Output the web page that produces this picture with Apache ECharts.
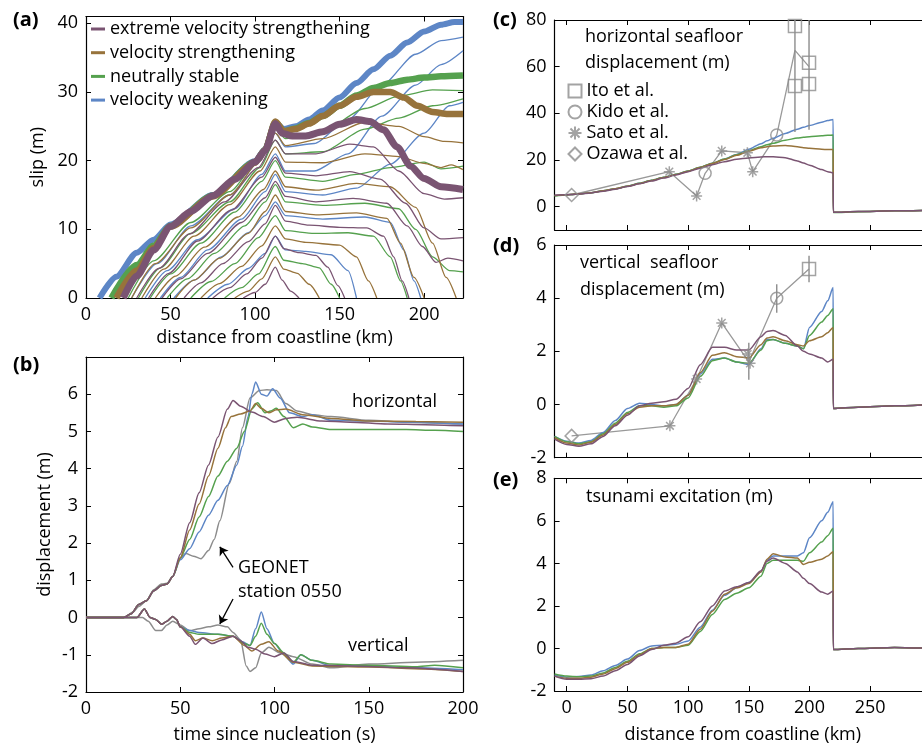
<!DOCTYPE html>
<html>
<head>
<meta charset="utf-8">
<script src="https://cdn.jsdelivr.net/npm/echarts@6/dist/echarts.min.js"></script>
<style>
  html, body { margin: 0; padding: 0; background: #fff; }
  #chart { width: 922px; height: 746px; }
</style>
</head>
<body>
<div id="chart"></div>
<script>
const FONT = '"Open Sans", "Noto Sans", sans-serif';
const C_EVS = '#7a5472', C_VS = '#97733b', C_NS = '#55a14e', C_VW = '#5d86c6';
const GRAY = '#8c8c8c';

const models = ['extreme velocity strengthening', 'velocity strengthening', 'neutrally stable', 'velocity weakening'];
const obsNames = ['Ito et al.', 'Kido et al.', 'Sato et al.', 'Ozawa et al.'];

// ---- (a) slip profiles [km, m] ----
const slipFinalEVS = [[22,0],[30,3.2],[40,7],[50,10.4],[62,12.6],[75,14.9],[88,17.3],[100,19.8],[106,21.5],[112,25.4],[116,24],[122,23.6],[130,23.6],[140,24.2],[150,25.3],[160,26],[168,25.7],[176,24.5],[184,22],[192,19.2],[200,17.4],[210,16.2],[223,15.8]];
const slipFinalVS = [[18,0],[30,4],[40,7.3],[50,10.4],[75,14.8],[100,19.7],[106,21.6],[112,25.7],[117,24.3],[124,24.6],[132,25.4],[140,26.5],[150,28],[160,29.3],[170,30],[180,30],[188,29.2],[196,28],[205,27.1],[214,26.8],[223,26.8]];
const slipFinalNS = [[15,0],[30,4.8],[40,7.6],[50,10.5],[75,14.9],[100,19.8],[106,21.6],[112,25.6],[117,24.3],[124,24.7],[132,25.5],[140,26.5],[150,28],[160,29.5],[170,30.6],[180,31.3],[190,31.8],[200,32.1],[210,32.3],[223,32.4]];
const slipFinalVW = [[8,0],[18,3.1],[30,6.6],[40,8.5],[50,10.7],[75,15],[100,19.9],[106,21.7],[112,25.6],[117,24.6],[124,25],[132,26],[140,27.3],[150,29.2],[160,31.3],[170,33.3],[180,35.3],[190,37.2],[200,38.8],[210,39.8],[218,40.2],[223,40.2]];

const slipStepsEVS = [
  [[93,0],[100,0.8],[106,2],[112,4.5],[116,2.6],[121,1],[126,0]],
  [[75,0],[85,1.5],[95,3.5],[104,5.8],[112,9],[117,7.2],[126,6.6],[136,6.2],[143,4.5],[149,1.8],[153,0]],
  [[58,0],[68,2.2],[81,5],[96,8.2],[106,10.8],[112,13.5],[118,11.2],[132,10.6],[150,10.3],[166,10.2],[176,9],[182,6],[187,2.5],[191,0]],
  [[45,0],[56,2.8],[72,6.5],[92,11],[106,14.6],[112,17],[118,14.8],[136,14],[158,14.5],[178,13.8],[190,10.5],[199,7.5],[207,5.2],[214,5.8],[223,5.4]],
  [[37,0],[49,3.6],[66,8.3],[86,12.8],[104,17.6],[112,20.5],[118,18.2],[136,17.8],[156,18.4],[174,17.3],[189,13.8],[200,10.2],[210,8.6],[223,8.8]],
  [[30,0],[43,4.3],[61,9.3],[82,14],[102,19],[112,23],[118,21],[136,21],[156,22.4],[170,22],[185,18.5],[200,15.2],[212,14.4],[223,14.6]]
];
const slipStepsVS = [
  [[88,0],[96,1],[104,2.8],[112,6],[117,4.2],[125,3.6],[132,2],[138,0]],
  [[68,0],[79,2.1],[92,4.6],[104,7.6],[112,10.5],[118,8.6],[130,8.1],[150,7.7],[160,6],[167,2.5],[172,0]],
  [[53,0],[64,2.6],[79,5.8],[96,9.4],[106,12.6],[112,15],[118,12.6],[136,12.1],[160,12.4],[178,11.6],[186,8],[194,3],[200,0]],
  [[41,0],[53,3.2],[70,7.4],[90,11.8],[105,15.8],[112,18.5],[118,16.2],[136,15.7],[160,16.7],[180,16.2],[195,13.2],[205,8],[213,3],[219,0]],
  [[33,0],[46,4.2],[64,9],[85,13.6],[103,18.5],[112,22],[118,19.8],[140,19.7],[165,21],[185,20.6],[200,19.6],[210,19],[216,19.4],[223,18.7]],
  [[27,0],[41,5],[62,10.2],[85,15],[103,20],[112,24],[118,22.2],[140,23.2],[165,25.6],[185,25],[200,23.5],[212,22.8],[223,22.6]]
];
const slipStepsNS = [
  [[82,0],[92,1.5],[102,3.5],[112,7.5],[117,5.5],[128,5],[138,4.4],[145,2],[150,0]],
  [[62,0],[74,2.4],[88,5],[102,8.8],[112,12],[118,9.8],[135,9.4],[155,9.5],[170,9],[180,6],[186,2.5],[190,0]],
  [[48,0],[60,2.8],[76,6.5],[94,10.5],[106,14],[112,16.5],[118,14],[140,13.5],[165,13.8],[185,13],[195,10],[205,6],[215,4],[223,3.8]],
  [[38,0],[50,3.5],[68,8],[88,12.5],[104,17],[112,20],[118,17.6],[140,17],[160,18],[180,19],[200,19.8],[210,18.8],[223,19.2]],
  [[31,0],[44,4.4],[62,9.4],[85,14],[103,19],[112,23],[118,21],[140,21.3],[165,24.6],[185,26.2],[205,28],[223,29]],
  [[25,0],[40,5.4],[62,11],[85,15.5],[103,20.4],[112,24.6],[118,23.2],[140,24.3],[165,27.6],[185,29.4],[205,30.3],[223,30.2]]
];
const slipStepsVW = [
  [[72,0],[84,2],[96,4.3],[106,6.5],[112,9],[118,7],[130,6.8],[145,6.3],[155,4],[160,0]],
  [[52,0],[64,2.6],[80,6],[96,9.5],[106,12],[112,14],[118,12],[140,11.5],[165,11.8],[180,11],[188,7],[194,2.5],[198,0]],
  [[44,0],[56,3],[72,7],[92,11.5],[106,15.5],[112,18],[118,15.5],[140,15],[160,16],[180,19.5],[200,24],[215,28],[223,28.5]],
  [[35,0],[48,4],[66,8.5],[88,13],[104,18],[112,21],[118,18.5],[135,18.5],[155,21],[175,26.5],[195,31],[210,34],[223,36]],
  [[27,0],[42,5],[62,10.5],[85,15],[103,20],[112,24],[118,22],[135,22.5],[155,26],[175,31],[195,35.5],[210,37.5],[223,38]]
];

// ---- (b) station displacement [s, m] ----
const horizEVS = [[0,0],[20,0],[24,0.1],[28,0.35],[32,0.45],[36,0.72],[40,0.86],[43,0.9],[46,1.1],[50,1.7],[55,2.55],[60,3.35],[65,4.1],[70,4.85],[75,5.6],[78,5.83],[82,5.68],[88,5.52],[94,5.4],[100,5.25],[106,5.35],[112,5.38],[125,5.28],[140,5.25],[160,5.2],[180,5.18],[200,5.15]];
const horizVS = [[0,0],[20,0],[24,0.1],[28,0.35],[32,0.45],[36,0.72],[40,0.86],[43,0.9],[46,1.1],[50,1.6],[55,2.35],[60,3.05],[65,3.8],[70,4.55],[74,5.1],[77,5.4],[82,5.47],[87,5.55],[90,5.75],[93,5.62],[97,5.5],[101,5.58],[106,5.6],[115,5.45],[130,5.35],[150,5.28],[175,5.27],[200,5.25]];
const horizNS = [[0,0],[20,0],[24,0.1],[28,0.35],[32,0.45],[36,0.72],[40,0.86],[43,0.9],[46,1.1],[50,1.6],[55,2.1],[60,2.7],[65,3.25],[70,3.8],[75,4.2],[80,4.55],[84,5.0],[88,5.6],[91,5.77],[95,5.5],[98,5.55],[101,5.62],[105,5.4],[110,5.1],[115,5.2],[120,5.12],[130,5.05],[150,5.05],[170,5.05],[185,5.03],[200,5.0]];
const horizVW = [[0,0],[20,0],[24,0.1],[28,0.35],[32,0.45],[36,0.72],[40,0.86],[43,0.9],[46,1.1],[50,1.55],[55,1.85],[60,2.3],[65,2.75],[70,3.15],[75,3.55],[80,4.1],[83,4.6],[86,5.4],[88,6.0],[90,6.33],[93,6.0],[96,5.95],[99,6.15],[103,5.9],[108,5.5],[115,5.4],[120,5.45],[130,5.3],[150,5.28],[170,5.25],[200,5.2]];
const horizGeonet = [[0,0],[20,0],[25,0.15],[28,0.3],[32,0.45],[36,0.75],[40,0.9],[43,0.92],[46,1.1],[50,1.6],[53,1.72],[57,1.65],[61,1.58],[65,1.8],[68,2.1],[71,2.6],[76,3.6],[80,4.2],[83,5.1],[87,5.9],[92,6.1],[96,6.12],[101,6.1],[106,5.75],[112,5.55],[120,5.45],[130,5.4],[150,5.3],[170,5.25],[200,5.2]];

const vertEVS = [[0,0],[27,0],[31,0.23],[34,0.0],[37,-0.05],[40,-0.18],[43,-0.1],[46,0.03],[48,-0.05],[50,-0.25],[55,-0.5],[58,-0.72],[62,-0.55],[67,-0.7],[72,-0.6],[78,-0.5],[82,-0.62],[86,-0.8],[90,-0.85],[95,-0.98],[100,-1.05],[105,-0.95],[110,-1.18],[120,-1.28],[140,-1.3],[170,-1.35],[200,-1.45]];
const vertVS = [[0,0],[27,0],[31,0.23],[34,0.0],[37,-0.05],[40,-0.18],[43,-0.1],[46,0.03],[48,-0.05],[50,-0.25],[55,-0.45],[58,-0.62],[62,-0.55],[67,-0.62],[72,-0.55],[78,-0.5],[84,-0.75],[88,-0.9],[93,-0.72],[97,-0.65],[102,-0.9],[110,-1.2],[120,-1.3],[150,-1.33],[180,-1.38],[200,-1.45]];
const vertNS = [[0,0],[27,0],[31,0.23],[34,0.0],[37,-0.05],[40,-0.18],[43,-0.1],[46,0.03],[48,-0.05],[50,-0.25],[55,-0.4],[60,-0.45],[70,-0.45],[78,-0.5],[84,-0.7],[87,-0.75],[90,-0.5],[93,-0.15],[96,-0.45],[100,-0.7],[105,-0.95],[110,-1.2],[114,-1.0],[120,-1.15],[130,-1.25],[150,-1.28],[175,-1.32],[185,-1.28],[200,-1.35]];
const vertVW = [[0,0],[27,0],[31,0.23],[34,0.0],[37,-0.05],[40,-0.18],[43,-0.1],[46,0.03],[48,-0.05],[50,-0.25],[55,-0.35],[60,-0.4],[70,-0.45],[78,-0.5],[83,-0.65],[87,-0.75],[90,-0.3],[93,0.15],[96,-0.3],[100,-0.7],[105,-1.0],[110,-1.25],[114,-1.0],[120,-1.15],[130,-1.3],[150,-1.3],[175,-1.35],[200,-1.4]];
const vertGeonet = [[0,0],[30,0],[33,-0.1],[37,-0.35],[40,-0.35],[43,-0.2],[46,-0.1],[50,-0.2],[55,-0.35],[60,-0.3],[65,-0.25],[70,-0.2],[75,-0.25],[78,-0.4],[82,-0.6],[85,-1.3],[87,-1.45],[90,-1.35],[93,-0.95],[97,-0.8],[103,-0.95],[110,-1.05],[120,-1.25],[130,-1.35],[150,-1.25],[175,-1.2],[200,-1.15]];

// ---- (c)-(e) seafloor profiles ----
const seafloorX = [-10, 0, 10, 20, 30, 40, 50, 60, 70, 80, 90, 100, 110, 120, 130, 140, 150, 160, 165, 170, 180, 190, 195, 200, 210, 215, 219.5, 219.6, 240, 270, 300];
const hzVW  = [4.8, 5.1, 5.5, 6.0, 6.8, 7.7, 8.8, 10.0, 11.3, 12.6, 13.9, 15.3, 16.9, 18.6, 20.4, 22.4, 24.6, 27.0, 28.2, 29.3, 31.4, 33.2, 34.0, 34.8, 36.2, 36.9, 37.4, -2.4, -2.1, -1.8, -1.6];
const hzNS  = [4.6, 5.0, 5.4, 6.0, 6.8, 7.7, 8.8, 10.0, 11.3, 12.6, 13.9, 15.3, 16.9, 18.6, 20.4, 22.3, 24.0, 25.7, 26.5, 27.2, 28.5, 29.4, 29.7, 30.0, 30.4, 30.6, 30.7, -2.5, -2.2, -1.8, -1.6];
const hzVS  = [4.8, 5.1, 5.5, 6.0, 6.8, 7.7, 8.7, 9.9, 11.2, 12.5, 13.8, 15.2, 16.8, 18.5, 20.2, 22.0, 23.8, 25.2, 25.7, 26.0, 26.2, 25.7, 25.3, 25.0, 24.6, 24.5, 24.5, -2.4, -2.1, -1.8, -1.6];
const hzEVS = [4.9, 5.1, 5.4, 5.9, 6.6, 7.5, 8.6, 9.8, 11.0, 12.3, 13.6, 15.0, 16.5, 18.0, 19.3, 20.3, 20.9, 21.3, 21.4, 21.4, 21.0, 19.6, 18.7, 17.8, 15.9, 15.0, 14.5, -2.4, -2.1, -1.8, -1.6];

const vtVW  = [-1.2, -1.38, -1.45, -1.35, -1.05, -0.6, -0.15, 0.05, 0.0, -0.05, 0.0, 0.35, 1.15, 1.7, 1.75, 1.6, 1.5, 2.1, 2.45, 2.45, 2.3, 2.2, 2.1, 2.9, 3.5, 3.9, 4.4, -0.15, -0.1, -0.05, 0.0];
const vtNS  = [-1.2, -1.4, -1.48, -1.4, -1.1, -0.7, -0.3, -0.05, -0.05, -0.1, -0.05, 0.25, 1.05, 1.65, 1.75, 1.6, 1.55, 2.05, 2.4, 2.45, 2.3, 2.2, 2.1, 2.6, 3.1, 3.35, 3.6, -0.15, -0.1, -0.05, 0.0];
const vtVS  = [-1.25, -1.45, -1.52, -1.42, -1.15, -0.75, -0.35, -0.1, -0.05, -0.05, 0.0, 0.35, 1.2, 1.85, 1.95, 1.8, 1.75, 2.25, 2.5, 2.55, 2.4, 2.25, 2.2, 2.4, 2.55, 2.7, 2.9, -0.15, -0.1, -0.05, 0.0];
const vtEVS = [-1.3, -1.5, -1.57, -1.48, -1.2, -0.8, -0.4, -0.05, 0.05, 0.1, 0.2, 0.6, 1.5, 2.15, 2.15, 2.05, 2.05, 2.55, 2.75, 2.78, 2.6, 2.2, 2.0, 1.9, 1.75, 1.6, 1.7, -0.15, -0.1, -0.05, 0.0];

const tsVW  = [-1.25, -1.35, -1.32, -1.25, -1.05, -0.8, -0.5, -0.1, 0.12, 0.15, 0.2, 0.35, 1.0, 1.8, 2.5, 2.85, 3.1, 3.6, 4.15, 4.35, 4.35, 4.35, 4.5, 5.2, 6.0, 6.4, 6.9, -0.05, 0.0, 0.05, 0.0];
const tsNS  = [-1.2, -1.3, -1.33, -1.3, -1.15, -0.9, -0.6, -0.25, 0.0, 0.05, 0.05, 0.15, 0.8, 1.6, 2.3, 2.6, 2.85, 3.4, 4.0, 4.15, 4.15, 4.15, 4.1, 4.5, 5.0, 5.3, 5.65, -0.05, 0.0, 0.05, 0.0];
const tsVS  = [-1.3, -1.4, -1.4, -1.35, -1.2, -0.95, -0.65, -0.3, 0.0, 0.05, 0.05, 0.2, 0.9, 1.75, 2.55, 2.85, 3.05, 3.6, 4.2, 4.45, 4.3, 4.25, 3.95, 4.05, 4.2, 4.35, 4.55, -0.05, 0.0, 0.05, 0.0];
const tsEVS = [-1.3, -1.45, -1.45, -1.42, -1.3, -1.05, -0.75, -0.35, -0.05, 0.15, 0.25, 0.55, 1.25, 2.0, 2.7, 2.9, 3.1, 3.65, 4.1, 4.25, 4.0, 3.6, 3.3, 3.05, 2.65, 2.55, 2.7, -0.05, 0.0, 0.05, 0.0];

// observations [km, m]; error bars [km, low, high]
const itoHz = [[188, 77.4], [188, 51.7], [199.6, 61.7], [199.6, 52.6]];
const kidoHz = [[114, 14.3], [173, 30.7]];
const satoHz = [[84.5, 15], [107, 4.6], [127.7, 23.9], [148.8, 23.1], [153.2, 15]];
const ozawaHz = [[4, 5]];
const obsPathHz = [[4, 5], [84.5, 15], [107, 4.6], [114, 14.3], [127.7, 23.9], [148.8, 23.1], [153.2, 15], [173, 30.7], [188, 67], [199.6, 60]];
const errHz = [[188, 32, 80], [199.6, 33, 80]];

const itoVt = [[199.6, 5.1]];
const kidoVt = [[173, 4.0]];
const satoVt = [[85, -0.8], [107, 0.96], [127.7, 3.07], [149, 1.9], [151, 1.55]];
const ozawaVt = [[4, -1.18]];
const obsPathVt = [[4, -1.18], [85, -0.8], [107, 0.96], [127.7, 3.07], [150, 1.6], [173, 4.0], [199.6, 5.1]];
const errVt = [[150, 0.93, 2.32], [173, 3.45, 4.52], [199.6, 4.6, 5.6]];

const zip = (xs, ys) => xs.map((x, i) => [x, ys[i]]);

function makeAxis(grid, pos, min, max, ticks, labels, name, gap) {
  return {
    type: 'value', gridIndex: grid, position: pos, min: min, max: max,
    axisLine: { show: true, onZero: false, lineStyle: { color: '#000', width: 1.2 } },
    axisTick: { show: true, inside: true, length: 5, customValues: ticks, lineStyle: { color: '#000', width: 1 } },
    axisLabel: { show: labels, customValues: ticks, color: '#000', fontFamily: FONT, fontSize: 18, margin: 8 },
    splitLine: { show: false },
    name: name || '', nameLocation: 'middle', nameGap: gap || 0,
    nameTextStyle: { color: '#000', fontFamily: FONT, fontSize: 18 }
  };
}

function line(name, color, data, xi, yi, width, z) {
  return {
    type: 'line', name: name, data: data, xAxisIndex: xi, yAxisIndex: yi,
    showSymbol: false, symbol: 'none', smooth: 0.25, smoothMonotone: 'x',
    lineStyle: { color: color, width: width }, itemStyle: { color: color },
    silent: true, z: z || 2
  };
}

const hollow = { color: 'rgba(0,0,0,0)', borderColor: GRAY, borderWidth: 1.5 };
const STAR = 'path://M5,0L5,10M0,5L10,5M1.5,1.5L8.5,8.5M1.5,8.5L8.5,1.5';

function obsSeries(xi, yi, ito, kido, sato, ozawa, path, err) {
  return [
    { type: 'line', name: 'obs', data: path, xAxisIndex: xi, yAxisIndex: yi, showSymbol: false, symbol: 'none',
      lineStyle: { color: '#999', width: 1.3 }, silent: true, z: 1 },
    { type: 'custom', name: 'err', data: err, xAxisIndex: xi, yAxisIndex: yi, silent: true, z: 5,
      encode: { x: 0, y: [1, 2] },
      renderItem: function (params, api) {
        const a = api.coord([api.value(0), api.value(1)]);
        const b = api.coord([api.value(0), api.value(2)]);
        return { type: 'line', shape: { x1: a[0], y1: a[1], x2: b[0], y2: b[1] }, style: { stroke: GRAY, lineWidth: 1.4 } };
      } },
    { type: 'scatter', name: 'Ito et al.', data: ito, xAxisIndex: xi, yAxisIndex: yi, symbol: 'rect', symbolSize: 13, itemStyle: hollow, z: 6 },
    { type: 'scatter', name: 'Kido et al.', data: kido, xAxisIndex: xi, yAxisIndex: yi, symbol: 'circle', symbolSize: 12, itemStyle: hollow, z: 6 },
    { type: 'scatter', name: 'Sato et al.', data: sato, xAxisIndex: xi, yAxisIndex: yi, symbol: STAR, symbolSize: 11, itemStyle: hollow, z: 6 },
    { type: 'scatter', name: 'Ozawa et al.', data: ozawa, xAxisIndex: xi, yAxisIndex: yi, symbol: 'diamond', symbolSize: 13, itemStyle: hollow, z: 6 }
  ];
}

const series = [];

// (a)
const steps = [slipStepsEVS, slipStepsVS, slipStepsNS, slipStepsVW];
const cols = [C_EVS, C_VS, C_NS, C_VW];
for (let k = 0; k < 6; k++) {
  for (let m = 0; m < 4; m++) {
    if (steps[m][k]) series.push(line(models[m], cols[m], steps[m][k], 0, 0, 1.3));
  }
}
series.push(line(models[3], C_VW, slipFinalVW, 0, 0, 6, 3));
series.push(line(models[2], C_NS, slipFinalNS, 0, 0, 6.5, 3));
series.push(line(models[1], C_VS, slipFinalVS, 0, 0, 6.5, 3));
series.push(line(models[0], C_EVS, slipFinalEVS, 0, 0, 7, 3));

// (b)
const geoH = line('GEONET', GRAY, horizGeonet, 2, 2, 1.5);
geoH.markLine = {
  silent: true, symbol: ['none', 'arrow'], symbolSize: 8, animation: false,
  lineStyle: { color: '#000', width: 1.3, type: 'solid' }, label: { show: false },
  data: [[{ coord: [78, 1.35] }, { coord: [71, 1.9] }], [{ coord: [78, 0.5] }, { coord: [71, -0.17] }]]
};
series.push(geoH);
series.push(line('GEONET', GRAY, vertGeonet, 2, 2, 1.5));
[[horizVW, vertVW, 3], [horizNS, vertNS, 2], [horizVS, vertVS, 1], [horizEVS, vertEVS, 0]].forEach(function (d) {
  series.push(line(models[d[2]], cols[d[2]], d[0], 2, 2, 1.5));
  series.push(line(models[d[2]], cols[d[2]], d[1], 2, 2, 1.5));
});

// (c), (d), (e)
obsSeries(4, 4, itoHz, kidoHz, satoHz, ozawaHz, obsPathHz, errHz).forEach(s => series.push(s));
obsSeries(6, 5, itoVt, kidoVt, satoVt, ozawaVt, obsPathVt, errVt).forEach(s => series.push(s));
[[hzVW, vtVW, tsVW, 3], [hzNS, vtNS, tsNS, 2], [hzVS, vtVS, tsVS, 1], [hzEVS, vtEVS, tsEVS, 0]].forEach(function (d) {
  series.push(line(models[d[3]], cols[d[3]], zip(seafloorX, d[0]), 4, 4, 1.5, 3));
  series.push(line(models[d[3]], cols[d[3]], zip(seafloorX, d[1]), 6, 5, 1.5, 3));
  series.push(line(models[d[3]], cols[d[3]], zip(seafloorX, d[2]), 8, 6, 1.5, 3));
});

const distTicks = [0, 50, 100, 150, 200, 250];
const textStyle = { fill: '#000', fontFamily: FONT, fontSize: 18, verticalAlign: 'middle' };
function txt(x, y, s, extra) {
  return { type: 'text', x: x, y: y, silent: true, style: Object.assign({ text: s }, textStyle, extra || {}) };
}

const option = {
  animation: false,
  backgroundColor: '#fff',
  grid: [
    { left: 86, top: 16.5, width: 377, height: 281.5, outerBoundsMode: 'none' },
    { left: 86, top: 357, width: 377, height: 335, outerBoundsMode: 'none' },
    { left: 554.6, top: 20, width: 376.3, height: 210, outerBoundsMode: 'none' },
    { left: 554.6, top: 245, width: 376.3, height: 212.7, outerBoundsMode: 'none' },
    { left: 554.6, top: 478.3, width: 376.3, height: 212.7, outerBoundsMode: 'none' }
  ],
  xAxis: [
    makeAxis(0, 'bottom', 0, 223, [0, 50, 100, 150, 200], true, 'distance from coastline (km)', 31),
    makeAxis(0, 'top', 0, 223, [0, 50, 100, 150, 200], false),
    makeAxis(1, 'bottom', 0, 200, [0, 50, 100, 150, 200], true, 'time since nucleation (s)', 34),
    makeAxis(1, 'top', 0, 200, [0, 50, 100, 150, 200], false),
    makeAxis(2, 'bottom', -10, 300, distTicks, false),
    makeAxis(2, 'top', -10, 300, distTicks, false),
    makeAxis(3, 'bottom', -10, 300, distTicks, false),
    makeAxis(3, 'top', -10, 300, distTicks, false),
    makeAxis(4, 'bottom', -10, 300, distTicks, true, 'distance from coastline (km)', 35),
    makeAxis(4, 'top', -10, 300, distTicks, false)
  ],
  yAxis: [
    makeAxis(0, 'left', 0, 41, [0, 10, 20, 30, 40], true, 'slip (m)', 39),
    makeAxis(0, 'right', 0, 41, [0, 10, 20, 30, 40], false),
    makeAxis(1, 'left', -2, 7, [-2, -1, 0, 1, 2, 3, 4, 5, 6], true, 'displacement (m)', 32),
    makeAxis(1, 'right', -2, 7, [-2, -1, 0, 1, 2, 3, 4, 5, 6], false),
    makeAxis(2, 'left', -10, 80, [0, 20, 40, 60, 80], true),
    makeAxis(3, 'left', -2, 6, [-2, 0, 2, 4, 6], true),
    makeAxis(4, 'left', -2, 8, [-2, 0, 2, 4, 6, 8], true)
  ],
  legend: [
    { data: models, left: 91, top: 20, padding: 0, orient: 'vertical', icon: 'rect', itemWidth: 14, itemHeight: 3, itemGap: 5.7,
      selectedMode: false, textStyle: { color: '#000', fontFamily: FONT, fontSize: 18, lineHeight: 18 } },
    { data: obsNames, left: 567.5, top: 82, padding: 0, orient: 'vertical', itemWidth: 13, itemHeight: 13, itemGap: 3,
      selectedMode: false, textStyle: { color: '#000', fontFamily: FONT, fontSize: 18, lineHeight: 18 } }
  ],
  graphic: [
    txt(13, 20, '(a)', { fontWeight: 'bold', fontSize: 20 }),
    txt(13, 365, '(b)', { fontWeight: 'bold', fontSize: 20 }),
    txt(493, 20, '(c)', { fontWeight: 'bold', fontSize: 20 }),
    txt(493, 246, '(d)', { fontWeight: 'bold', fontSize: 20 }),
    txt(493, 480, '(e)', { fontWeight: 'bold', fontSize: 20 }),
    txt(352, 402, 'horizontal'),
    txt(348, 646, 'vertical'),
    txt(238, 568, 'GEONET'),
    txt(238, 592, 'station 0550'),
    txt(585, 37, 'horizontal seafloor'),
    txt(585, 63, 'displacement (m)'),
    txt(580, 263, 'vertical  seafloor'),
    txt(580, 290, 'displacement (m)'),
    txt(586, 497, 'tsunami excitation (m)')
  ],
  series: series
};

const chart = echarts.init(document.getElementById('chart'));
chart.setOption(option);
</script>
</body>
</html>
